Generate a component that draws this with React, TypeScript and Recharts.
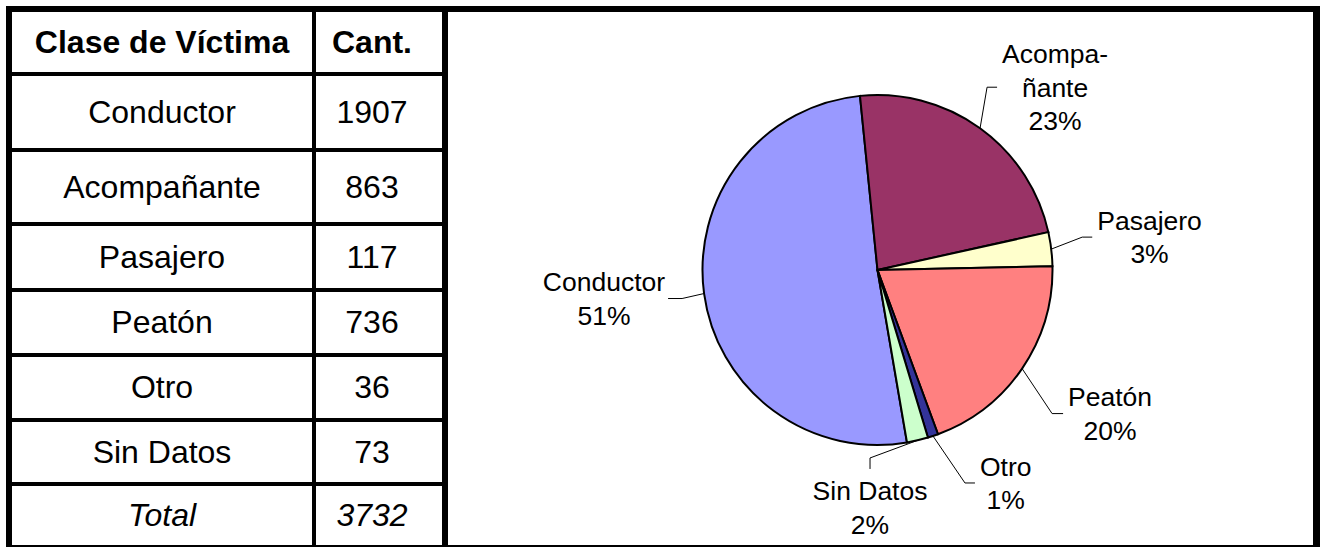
import React from "react";
import { Cell, Pie, PieChart } from "recharts";

const categories = ["Conductor", "Acompañante", "Pasajero", "Peatón", "Otro", "Sin Datos"];
const counts = [1907, 863, 117, 736, 36, 73];
const sliceLabels = [["Conductor"], ["Acompa-", "ñante"], ["Pasajero"], ["Peatón"], ["Otro"], ["Sin Datos"]];
const headers = ["Clase de Víctima", "Cant."];
const totalLabel = "Total";

const colors = ["#9999FF", "#993366", "#FFFFCC", "#FF8080", "#333399", "#CCFFCC"];

const total = counts.reduce((a, b) => a + b, 0);
const pieData = categories.map((name, i) => ({ name, value: counts[i] }));

const FONT = "'Liberation Sans', Arial, sans-serif";
const LABEL_SIZE = 26.5;
const LINE_GAP = 33.5;

// leader line shape per slice: elbow offset from slice edge, then a short tail
const leaders = [
  { elbow: [-22, 5], tail: [-14, 0], side: "left" },
  { elbow: [7, -41], tail: [10, 0], side: "right" },
  { elbow: [31, -12], tail: [10, 0], side: "right" },
  { elbow: [30, 45], tail: [11, 0], side: "right" },
  { elbow: [32, 47], tail: [10, 0], side: "right" },
  { elbow: [-47.5, 17.6], tail: [0, 11], side: "below" },
];

// table geometry
const cellTops = [12, 76, 152, 226, 292, 357, 422, 486];
const cellBottoms = [72, 148, 222, 288, 353, 418, 482, 545];
const rowLines = [72, 148, 222, 288, 353, 418, 482];

let ctx: CanvasRenderingContext2D | null = null;
function textWidth(s: string) {
  if (!ctx) ctx = document.createElement("canvas").getContext("2d");
  if (!ctx) return s.length * LABEL_SIZE * 0.55;
  ctx.font = `${LABEL_SIZE}px 'Liberation Sans', Arial, sans-serif`;
  return ctx.measureText(s).width;
}

function renderLabel(props: any) {
  const { cx, cy, midAngle, outerRadius, index, value } = props;
  const rad = (-midAngle * Math.PI) / 180;
  const ex = cx + outerRadius * Math.cos(rad);
  const ey = cy + outerRadius * Math.sin(rad);
  const l = leaders[index];
  const bx = ex + l.elbow[0];
  const by = ey + l.elbow[1];
  const tx = bx + l.tail[0];
  const ty = by + l.tail[1];
  const lines = [...sliceLabels[index], `${Math.round((value / total) * 100)}%`];
  const w = Math.max(...lines.map(textWidth));
  let centerX = tx;
  if (l.side === "right") centerX = tx + 5 + w / 2;
  if (l.side === "left") centerX = tx - 3 - w / 2;
  const n = lines.length;
  return (
    <g key={`lbl-${index}`}>
      <polyline
        points={`${ex},${ey} ${bx},${by} ${tx},${ty}`}
        fill="none"
        stroke="#000"
        strokeWidth={1}
      />
      {lines.map((s, i) => {
        const mid =
          l.side === "below" ? ty + 22 + i * LINE_GAP : ty + (i - (n - 1) / 2) * LINE_GAP;
        return (
          <text
            key={i}
            x={centerX}
            y={mid + 9.4}
            textAnchor="middle"
            fontFamily={FONT}
            fontSize={LABEL_SIZE}
            fill="#000"
          >
            {s}
          </text>
        );
      })}
    </g>
  );
}

const bar = (left: number, top: number, width: number, height: number, key: string) => (
  <div
    key={key}
    style={{ position: "absolute", left, top, width, height, background: "#000" }}
  />
);

function Cellbox({
  row,
  col,
  children,
  bold,
  italic,
}: {
  row: number;
  col: number;
  children: React.ReactNode;
  bold?: boolean;
  italic?: boolean;
}) {
  const left = col === 0 ? 12 : 316;
  const width = col === 0 ? 300 : 112;
  return (
    <div
      style={{
        position: "absolute",
        left,
        top: cellTops[row],
        width,
        height: cellBottoms[row] - cellTops[row],
        display: "flex",
        alignItems: "center",
        justifyContent: "center",
        fontFamily: FONT,
        fontSize: 32,
        fontWeight: bold ? "bold" : "normal",
        fontStyle: italic ? "italic" : "normal",
        color: "#000",
      }}
    >
      {children}
    </div>
  );
}

export default function App() {
  return (
    <div
      style={{
        position: "absolute",
        left: 0,
        top: 0,
        width: 1322,
        height: 547,
        background: "#fff",
        overflow: "hidden",
      }}
    >
      {bar(6, 6, 1314, 6, "top")}
      {bar(6, 545, 1314, 6, "bottom")}
      {bar(6, 6, 6, 545, "left")}
      {bar(442, 6, 6, 545, "mid")}
      {bar(1313, 6, 7, 545, "right")}
      {bar(312, 12, 4, 533, "col")}
      {rowLines.map((y, i) => bar(12, y, 430, 4, `row-${i}`))}

      <Cellbox row={0} col={0} bold>
        {headers[0]}
      </Cellbox>
      <Cellbox row={0} col={1} bold>
        {headers[1]}
      </Cellbox>
      {categories.map((c, i) => (
        <React.Fragment key={c}>
          <Cellbox row={i + 1} col={0}>
            {c}
          </Cellbox>
          <Cellbox row={i + 1} col={1}>
            {counts[i]}
          </Cellbox>
        </React.Fragment>
      ))}
      <Cellbox row={7} col={0} italic>
        {totalLabel}
      </Cellbox>
      <Cellbox row={7} col={1} italic>
        {total}
      </Cellbox>

      <div style={{ position: "absolute", left: 0, top: 0 }}>
        <PieChart width={1322} height={547} margin={{ top: 0, right: 0, bottom: 0, left: 0 }}>
          <Pie
            data={pieData}
            dataKey="value"
            nameKey="name"
            cx={877.5}
            cy={270}
            outerRadius={175}
            startAngle={-80.3}
            endAngle={-440.3}
            stroke="#000"
            strokeWidth={2}
            label={renderLabel}
            labelLine={false}
            isAnimationActive={false}
          >
            {pieData.map((d, i) => (
              <Cell key={d.name} fill={colors[i]} />
            ))}
          </Pie>
        </PieChart>
      </div>
    </div>
  );
}
